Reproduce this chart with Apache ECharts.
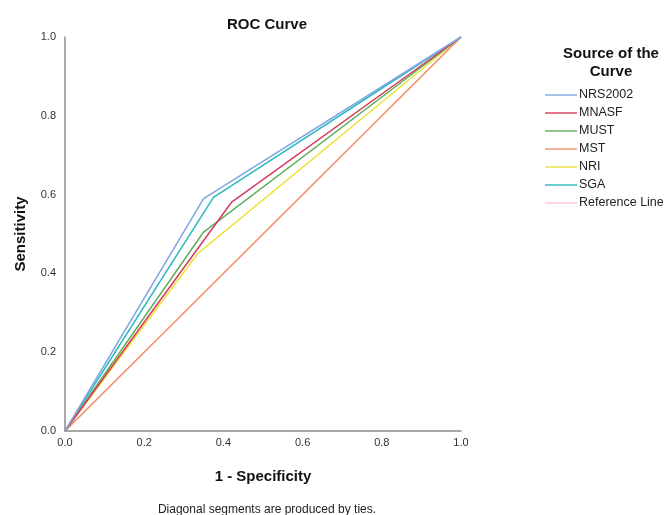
<!DOCTYPE html>
<html lang="en">
<head>
    <meta charset="UTF-8">
    <title>ROC Curve</title>
    <script src="https://cdn.jsdelivr.net/npm/echarts@6/dist/echarts.min.js"></script>
    <style>
        html, body {margin: 0; padding: 0; background: #fff;}
        #roc_chart {width: 667px; height: 515px;}
    </style>
</head>
<body>
<div id="roc_chart"></div>
<script>
    /* data: [1 - specificity, sensitivity] */
    var seriesNames = ['NRS2002', 'MNASF', 'MUST', 'MST', 'NRI', 'SGA', 'Reference Line'];
    var nrs2002 = [[0, 0], [0.35, 0.59], [1, 1]];
    var mnasf = [[0, 0], [0.42, 0.58], [1, 1]];
    var must = [[0, 0], [0.35, 0.505], [1, 1]];
    var mst = [[0, 0], [0.36, 0.36], [1, 1]];
    var nri = [[0, 0], [0.335, 0.45], [1, 1]];
    var sga = [[0, 0], [0.375, 0.593], [1, 1]];
    var refLine = [[0, 0], [1, 1]];

    var lineColors = ['#7fa8e2', '#d83a5e', '#5fae5f', '#f4946e', '#ebe23c', '#2db9c0', '#f9c6cc'];
    var seriesData = [nrs2002, mnasf, must, mst, nri, sga, refLine];

    var myChart = echarts.init(document.getElementById('roc_chart'));
    var axisColor = '#8c8c8c';
    var series = [];
    for (var i = 0; i < seriesNames.length; i++) {
        series.push({
            name: seriesNames[i],
            type: 'line',
            data: seriesData[i],
            symbol: 'none',
            silent: true,
            z: i == 6 ? 1 : 10 - i,
            lineStyle: {color: lineColors[i], width: 1.5}
        });
    }

    var option = {
        backgroundColor: '#fff',
        animation: false,
        color: lineColors,
        title: [{
            text: 'ROC Curve',
            left: 262, top: 12, textAlign: 'center',
            textStyle: {fontFamily: 'Liberation Sans', fontSize: 15, fontWeight: 'bold', color: '#111'}
        }, {
            text: 'Source of the\nCurve',
            left: 606, top: 40, textAlign: 'center',
            textStyle: {fontFamily: 'Liberation Sans', fontSize: 15, fontWeight: 'bold', color: '#111', lineHeight: 18}
        }, {
            text: 'Diagonal segments are produced by ties.',
            left: 262, top: 499, textAlign: 'center',
            textStyle: {fontFamily: 'Liberation Sans', fontSize: 12, fontWeight: 'normal', color: '#222'}
        }],
        legend: {
            data: seriesNames,
            orient: 'vertical',
            left: 545, top: 88, padding: 0,
            itemWidth: 32, itemHeight: 10, itemGap: 4,
            icon: 'path://M0,4.3 L32,4.3 L32,5.7 L0,5.7 Z',
            textStyle: {fontFamily: 'Liberation Sans', fontSize: 12.5, lineHeight: 14, color: '#222', padding: [0, 0, 0, -3]}
        },
        grid: {left: 65, right: 206, top: 37, bottom: 84},
        xAxis: {
            type: 'value', min: 0, max: 1, interval: 0.2,
            name: '1 - Specificity', nameLocation: 'middle', nameGap: 38,
            nameTextStyle: {fontFamily: 'Liberation Sans', fontSize: 15, fontWeight: 'bold', color: '#111'},
            axisLine: {show: true, lineStyle: {color: axisColor, width: 1.5}},
            axisTick: {show: false},
            splitLine: {show: false},
            axisLabel: {
                fontFamily: 'Liberation Sans', fontSize: 11, color: '#333', margin: 6,
                formatter: function (v) { return v.toFixed(1); }
            }
        },
        yAxis: {
            type: 'value', min: 0, max: 1, interval: 0.2,
            name: 'Sensitivity', nameLocation: 'middle', nameGap: 37,
            nameTextStyle: {fontFamily: 'Liberation Sans', fontSize: 15, fontWeight: 'bold', color: '#111'},
            axisLine: {show: true, lineStyle: {color: axisColor, width: 1.5}},
            axisTick: {show: false},
            splitLine: {show: false},
            axisLabel: {
                fontFamily: 'Liberation Sans', fontSize: 11, color: '#333', margin: 9,
                formatter: function (v) { return v.toFixed(1); }
            }
        },
        series: series
    };
    myChart.setOption(option);
</script>
</body>
</html>
